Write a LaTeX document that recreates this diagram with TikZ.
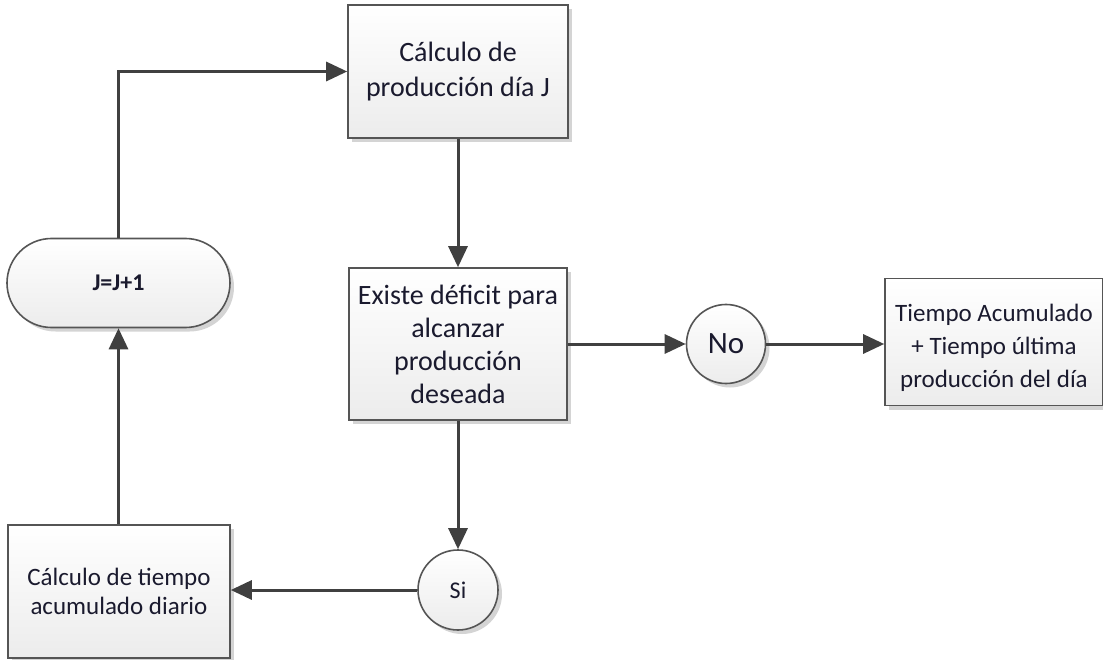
\documentclass[tikz,border=0pt]{standalone}
\usepackage{fontspec}
\setmainfont{Carlito}
\usetikzlibrary{arrows.meta,shadows,shapes.misc}
\definecolor{linec}{HTML}{404040}
\definecolor{borderc}{HTML}{555555}
\definecolor{txtc}{HTML}{1A1A2E}
\definecolor{shadowc}{HTML}{D4D4D4}
\tikzset{
  base/.style={draw=borderc, line width=1.6pt, top color=white, bottom color={rgb,255:red,236;green,236;blue,236},
    text=txtc, align=center, inner sep=0pt,
    drop shadow={shadow xshift=4pt, shadow yshift=-4pt, fill=shadowc, opacity=1}},
  procbox/.style={base, rectangle},
  termbox/.style={base, rounded rectangle, minimum width=223pt, minimum height=89pt},
  conn/.style={base, circle, minimum size=79pt},
  arr/.style={draw=linec, line width=3pt, -{Triangle[length=21pt,width=19pt]}},
}
\begin{document}
\begin{tikzpicture}[x=1pt,y=-1pt]
\useasboundingbox[fill=white] (0,0) rectangle (1103,660);
\node[procbox, minimum width=220pt, minimum height=133pt, font=\fontsize{28}{35}\selectfont] (calc) at (458,71.5) {Cálculo de\\producción día J};
\node[procbox, minimum width=218pt, minimum height=152pt, font=\fontsize{28}{33}\selectfont] (def) at (458,344) {Existe déficit para\\alcanzar\\producción\\deseada};
\node[conn, font=\fontsize{31}{36}\selectfont] (no) at (726,344) {No};
\node[procbox, minimum width=218pt, minimum height=127pt, font=\fontsize{25}{33}\selectfont] (tiempo) at (994,342) {\rule{0pt}{30pt}Tiempo Acumulado\\+ Tiempo última\\producción del día};
\node[conn, minimum size=80pt, font=\fontsize{24}{28}\selectfont] (si) at (458,590) {Si};
\node[procbox, minimum width=222pt, minimum height=133pt, font=\fontsize{25}{29}\selectfont] (acum) at (119,591.5) {Cálculo de tiempo\\acumulado diario};
\node[termbox, font=\fontsize{24}{28}\selectfont\bfseries] (jj) at (118.5,283) {J=J+1};
\coordinate (c1) at (118.5,71.5);
\draw[arr] (calc) -- (def);
\draw[arr] (def.east) -- (no.west);
\draw[arr] (no.east) -- (no.east -| tiempo.west);
\draw[arr] (def.south) -- (si.north);
\draw[arr] (si.west) -- (si.west -| acum.east);
\draw[arr] (acum.north -| jj.south) -- (jj.south);
\draw[arr] (jj.north) -- (c1) -- (calc.west);
\end{tikzpicture}
\end{document}
